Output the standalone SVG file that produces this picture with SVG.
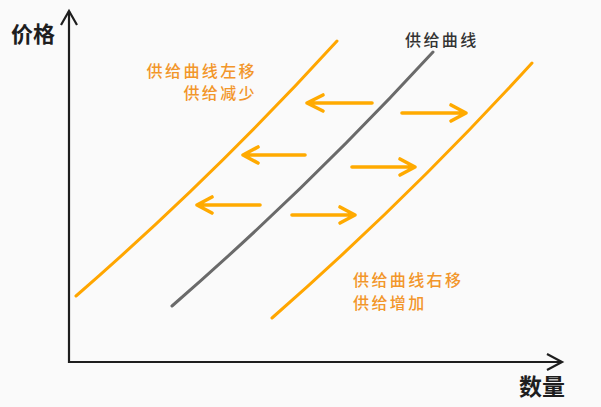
<svg xmlns="http://www.w3.org/2000/svg" width="601" height="407" viewBox="0 0 601 407">
<style>
.axis{fill:none;stroke:#1e1e1e;stroke-width:2.2;stroke-linecap:butt;stroke-linejoin:miter}
.curve{fill:none;stroke:#FFA600;stroke-width:3;stroke-linecap:round}
.gray{fill:none;stroke:#6a6a6a;stroke-width:3;stroke-linecap:round}
.arr{fill:none;stroke:#FFAA00;stroke-width:3.6;stroke-linecap:round;stroke-linejoin:round}
.ax-t{font-family:"Noto Sans CJK SC","Noto Sans",sans-serif;font-weight:700;fill:#1e1e1e}
.lab{font-family:"Noto Sans CJK SC","Noto Sans",sans-serif;font-size:16px;font-weight:500;letter-spacing:2.4px}
.or{fill:#F2962A}
.dk{fill:#333333}
</style>
<rect width="601" height="407" fill="#fafafa"/>
<g id="axes">
<path class="axis" d="M69,11 V362 H562"/>
<path class="axis" d="M61,25 L69,11 L77,25"/>
<path class="axis" d="M547,354 L562,362 L547,370"/>
</g>
<g id="axis-labels">
<text class="ax-t" x="11" y="42" font-size="22">价格</text>
<text class="ax-t" x="519" y="395" font-size="23">数量</text>
</g>
<g id="supply-left">
<path class="curve" d="M76,296 Q214,176 337,41"/>
<text class="lab or" x="257" y="77" text-anchor="end">供给曲线左移</text>
<text class="lab or" x="257" y="99" text-anchor="end">供给减少</text>
</g>
<g id="supply">
<path class="gray" d="M172,306 Q310,186 433,52"/>
<text class="lab dk" x="405" y="46">供给曲线</text>
</g>
<g id="supply-right">
<path class="curve" d="M272,318 Q409,198 532,63"/>
<text class="lab or" x="353" y="286">供给曲线右移</text>
<text class="lab or" x="353" y="309">供给增加</text>
</g>
<g id="connectors">
<path class="arr" d="M372,103 H307 M323,95 L307,103 L323,111"/>
<path class="arr" d="M402,113 H466 M451,105 L466,113 L451,121"/>
<path class="arr" d="M305,155 H243 M258,147 L243,155 L258,163"/>
<path class="arr" d="M352,167 H415 M400,159 L415,167 L400,175"/>
<path class="arr" d="M260,205 H197 M212,197 L197,205 L212,213"/>
<path class="arr" d="M292,215 H355 M340,207 L355,215 L340,223"/>
</g>
</svg>
